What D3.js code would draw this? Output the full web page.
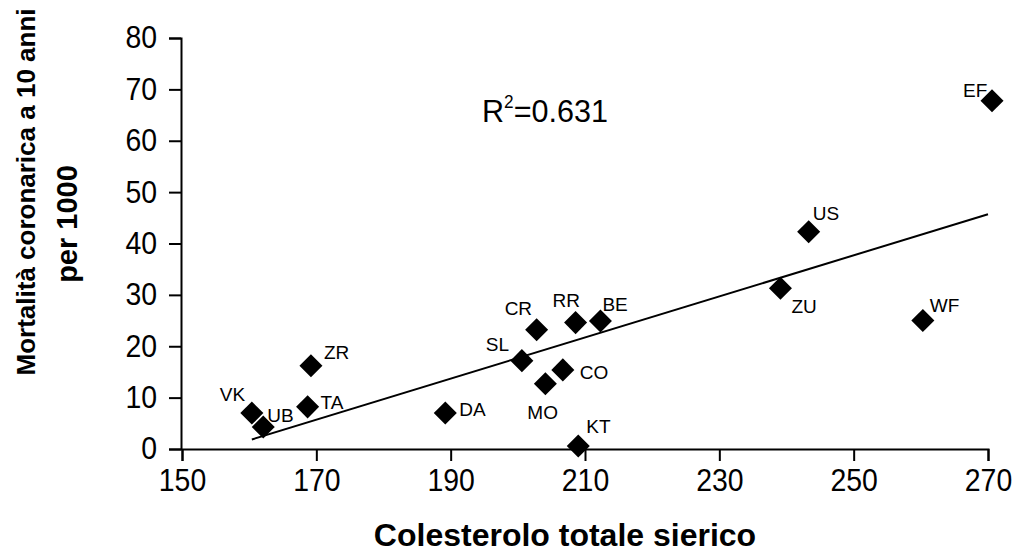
<!DOCTYPE html>
<html>
<head>
<meta charset="utf-8">
<script src="https://cdn.jsdelivr.net/npm/d3@7/dist/d3.min.js"></script>
<style>
  html, body { margin: 0; padding: 0; background: #fff; }
  svg { display: block; }
  text { font-family: "Liberation Sans", Arial, Helvetica, sans-serif; fill: #000; }
</style>
</head>
<body>
<svg id="chart" width="1019" height="554"></svg>
<script>
// ---- data ----
const codes       = ["VK", "UB", "ZR", "TA", "DA", "SL", "CR", "RR", "BE", "CO", "MO", "KT", "ZU", "US", "WF", "EF"];
const cholesterol = [160.4, 162.1, 169.2, 168.7, 189.2, 200.6, 202.8, 208.6, 212.3, 206.7, 204.1, 209.0, 239.1, 243.3, 260.3, 270.6];
const mortality   = [7.0, 4.3, 16.2, 8.2, 7.0, 17.2, 23.2, 24.6, 24.9, 15.4, 12.7, 0.6, 31.3, 42.3, 25.0, 67.8];
const xTicks = [150, 170, 190, 210, 230, 250, 270];
const yTicks = [0, 10, 20, 30, 40, 50, 60, 70, 80];
const fitRange = [160.4, 270];
const fitIntercept = -62.3;
const fitSlope = 0.4;
const rSquared = "0.631";
const xTitle = "Colesterolo totale sierico";
const yTitle = ["Mortalità coronarica a 10 anni", "per 1000"];

// ---- layout (label offsets in px from the marker centre) ----
const labelOffset = {
  VK: [-32, -12], UB: [4, -5], ZR: [13, -7], TA: [13, 2], DA: [14, 3],
  SL: [-36, -10], CR: [-32, -15], RR: [-23, -16], BE: [2, -10], CO: [17, 9],
  MO: [-18, 35], KT: [8, -13], ZU: [11, 25], US: [4, -12], WF: [7, -9], EF: [-29, -4]
};

const svg = d3.select("#chart");
const x = d3.scaleLinear().domain([150, 270]).range([182, 988]);
const y = d3.scaleLinear().domain([0, 80]).range([449, 38]);

// axes
const gx = svg.append("g").attr("transform", "translate(0,449)")
  .call(d3.axisBottom(x).tickValues(xTicks).tickSize(12).tickPadding(8).tickFormat(d3.format("d")));
const gy = svg.append("g").attr("transform", "translate(181,0)")
  .call(d3.axisLeft(y).tickValues(yTicks).tickSize(12).tickPadding(12).tickFormat(d3.format("d")));
[gx, gy].forEach(g => {
  g.selectAll("path, line").attr("stroke", "#000").attr("stroke-width", 2);
  g.selectAll("text")
    .attr("font-size", 31)
    .attr("font-family", '"Liberation Sans", Arial, sans-serif')
    .attr("fill", "#000")
    .attr("lengthAdjust", "spacingAndGlyphs")
    .attr("textLength", function() { return this.textContent.length * 15.8; });
});

// regression line
svg.append("line")
  .attr("x1", x(fitRange[0])).attr("y1", y(fitIntercept + fitSlope * fitRange[0]))
  .attr("x2", x(fitRange[1])).attr("y2", y(fitIntercept + fitSlope * fitRange[1]))
  .attr("stroke", "#000").attr("stroke-width", 2);

// markers
const pts = codes.map((c, i) => ({ c, vx: cholesterol[i], vy: mortality[i] }));
const sym = d3.symbol().type(d3.symbolSquare).size(265);
svg.append("g").selectAll("path").data(pts).join("path")
  .attr("d", sym)
  .attr("transform", d => `translate(${x(d.vx)},${y(d.vy)}) rotate(45)`)
  .attr("fill", "#000");

// point labels
svg.append("g").selectAll("text").data(pts).join("text")
  .attr("x", d => x(d.vx) + labelOffset[d.c][0])
  .attr("y", d => y(d.vy) + labelOffset[d.c][1])
  .attr("font-size", 19)
  .text(d => d.c);

// R^2 annotation
const r2 = svg.append("text").attr("x", 482).attr("y", 122).attr("font-size", 32)
  .attr("lengthAdjust", "spacingAndGlyphs").attr("textLength", 126);
r2.append("tspan").text("R");
r2.append("tspan").attr("font-size", 18).attr("dy", -14).text("2");
r2.append("tspan").attr("dy", 14).text("=" + rSquared);

// axis titles
svg.append("text").attr("x", 565).attr("y", 546).attr("text-anchor", "middle")
  .attr("font-size", 32).attr("font-weight", "bold").text(xTitle);
svg.append("text").attr("transform", "translate(35,192) rotate(-90)").attr("text-anchor", "middle")
  .attr("font-size", 26).attr("font-weight", "bold").text(yTitle[0]);
svg.append("text").attr("transform", "translate(77,224) rotate(-90)").attr("text-anchor", "middle")
  .attr("font-size", 29).attr("font-weight", "bold").text(yTitle[1]);
</script>
</body>
</html>
